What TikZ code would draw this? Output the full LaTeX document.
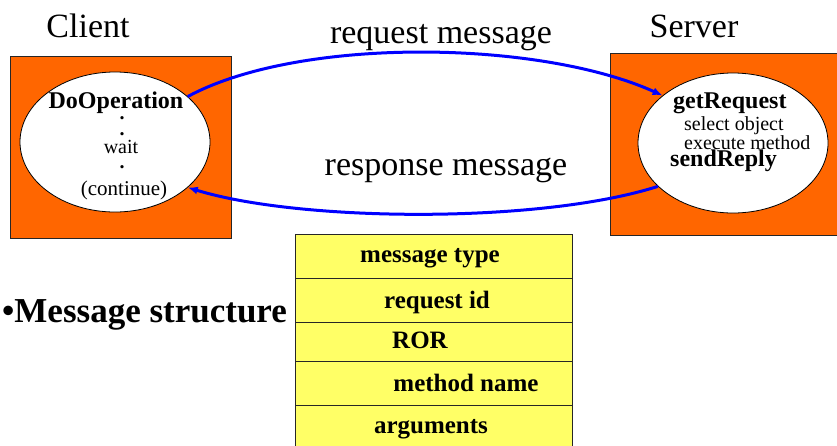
\documentclass[tikz,border=0pt]{standalone}
\usepackage{fontspec}
\setmainfont{Liberation Serif}
\usetikzlibrary{shapes.geometric,arrows.meta}

\definecolor{hostorange}{HTML}{FF6600}
\definecolor{cellyellow}{HTML}{FFFF66}
\definecolor{linkblue}{HTML}{0000FF}

\tikzset{
  host/.style={draw=black!85, fill=hostorange, line width=.8pt, inner sep=0pt,
    minimum width=#1, minimum height=182},
  proc/.style={ellipse, draw, fill=white, line width=.8pt, inner sep=0pt,
    minimum width=#1, minimum height=140},
  link/.style={draw=linkblue, line width=3pt, -{Latex[length=10pt,width=8pt]}},
  huge/.style={font=\fontsize{34}{40}\selectfont, inner sep=0pt},
  call/.style={font=\fontsize{24}{28}\selectfont\bfseries, inner sep=0pt},
  note/.style={font=\fontsize{20}{24}\selectfont, inner sep=0pt},
  cell/.style={draw=black!85, fill=cellyellow, line width=.8pt},
  field/.style={font=\fontsize{25}{29}\selectfont\bfseries, inner sep=0pt, anchor=base}
}

\begin{document}
\begin{tikzpicture}[x=1pt,y=-1pt]
\useasboundingbox (0,0) rectangle (837,445);

% hosts
\node[host=221] (cbox) at (120.5,147) {};
\node[host=228] (sbox) at (724,144) {};
\node[huge, anchor=base] (client) at (88,37) {Client};
\node[huge, anchor=base] (server) at (694,37) {Server};

\node[proc=190] (cli) at (115,142) {};
\node[proc=190] (srv) at (733,143) {};

% client side
\node[call, anchor=base] (doop) at (116,108) {DoOperation};
\node[note, anchor=base] (dot1) at (122,119) {\textbf{.}};
\node[note, anchor=base] (dot2) at (122,135) {\textbf{.}};
\node[note, anchor=base] (wait) at (121,153) {wait};
\node[note, anchor=base] (dot3) at (122,168) {\textbf{.}};
\node[note, font=\fontsize{21}{25}\selectfont, anchor=base] (cont) at (124,195) {(continue)};

% server side
\node[call, anchor=base west] (getreq) at (673,108) {getRequest};
\node[note, anchor=base west] (selobj) at (684,130) {select object};
\node[note, anchor=base west] (exmeth) at (684,149) {execute method};
\node[call, anchor=base west] (sendrep) at (670,166) {sendReply};

% messages
\draw[link] (cli.32) .. controls (300,36) and (540,40) .. (srv.146);
\draw[link] (srv.210) .. controls (540,224) and (300,222) .. (cli.-32);
\node[huge, anchor=base] (reqmsg) at (441,43) {request message};
\node[huge, anchor=base] (resmsg) at (446,175) {response message};

% message layout
\node[huge, font=\fontsize{35}{40}\selectfont\bfseries, anchor=base west] (mstruct) at (2,322) {•Message structure};
\foreach \i/\top/\bot/\base/\xc/\txt in {1/234/278/262/430/message type,
    2/278/322/308/437/request id, 3/322/361/348/420/ROR,
    4/361/405/391/466/method name, 5/405/449/433/431/arguments}{
  \draw[cell] (295,\top) rectangle (572,\bot);
  \node[field] (f\i) at (\xc,\base) {\txt};
}
\end{tikzpicture}
\end{document}
